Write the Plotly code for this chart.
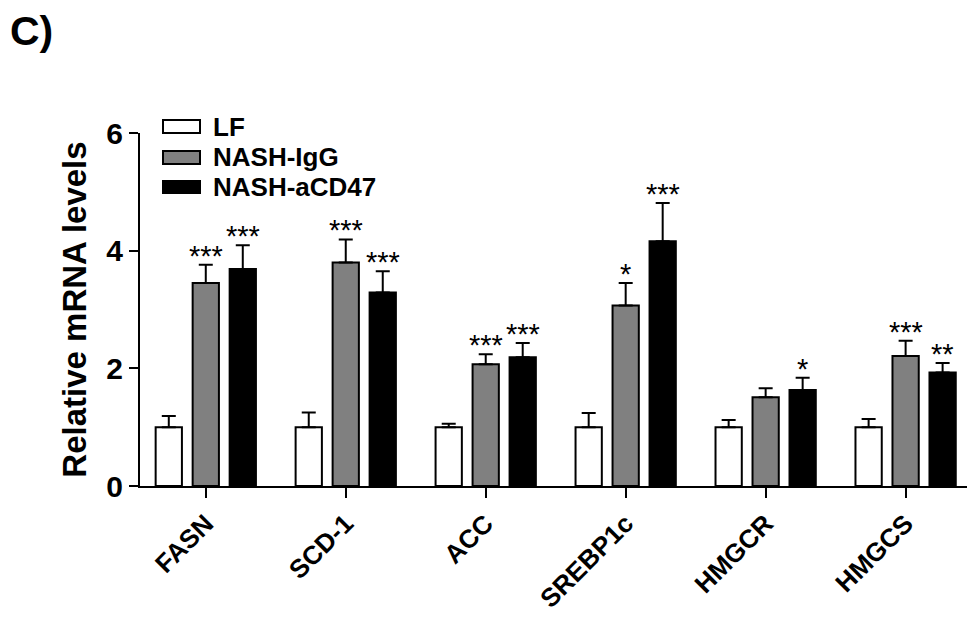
import plotly.graph_objects as go

# ---- data ----
genes = ["FASN", "SCD-1", "ACC", "SREBP1c", "HMGCR", "HMGCS"]
groups = ["LF", "NASH-IgG", "NASH-aCD47"]

lf_mean = [1.00, 1.00, 1.00, 1.00, 1.00, 1.00]
lf_sem = [0.19, 0.25, 0.06, 0.24, 0.12, 0.14]
igg_mean = [3.45, 3.80, 2.07, 3.07, 1.51, 2.21]
igg_sem = [0.31, 0.39, 0.17, 0.38, 0.15, 0.26]
acd47_mean = [3.69, 3.29, 2.19, 4.16, 1.63, 1.93]
acd47_sem = [0.40, 0.36, 0.24, 0.65, 0.21, 0.16]

lf_sig = ["", "", "", "", "", ""]
igg_sig = ["***", "***", "***", "*", "", "***"]
acd47_sig = ["***", "***", "***", "***", "*", "**"]

y_ticks = [0, 2, 4, 6]

# ---- style ----
FONT = "Liberation Sans, Arial, Helvetica, sans-serif"
colors = ["#ffffff", "#808080", "#000000"]
W, H = 975, 618
OFF = 8  # page offset of the figure inside the browser window
ML, MR, MT, MB = 140 - OFF, W - (970 - OFF), 133 - OFF, H - (486 - OFF)
BARGAP = 0.207
BARGROUPGAP = 0.29

series = [
    (groups[0], lf_mean, lf_sem, lf_sig),
    (groups[1], igg_mean, igg_sem, igg_sig),
    (groups[2], acd47_mean, acd47_sem, acd47_sig),
]

fig = go.Figure()
for k, (name, mean, sem, _) in enumerate(series):
    fig.add_trace(go.Bar(
        name=name, x=genes, y=mean,
        marker=dict(color=colors[k], line=dict(color="#000000", width=2)),
        error_y=dict(type="data", array=sem, arrayminus=[0] * len(sem),
                     symmetric=False, color="#000000", thickness=2, width=7),
        showlegend=False,
    ))

# significance stars above error bars
slot = (1 - BARGAP) / 3
annotations = []
for k, (name, mean, sem, sig) in enumerate(series):
    for i, s in enumerate(sig):
        if not s:
            continue
        annotations.append(dict(
            x=i + (k - 1) * slot, y=mean[i] + sem[i], xref="x", yref="y",
            text=s, showarrow=False, yanchor="bottom", xanchor="center",
            yshift=-9, font=dict(family=FONT, size=29, color="#000000"),
        ))

# manual legend (wide boxes like the original), positions in window pixels
pw = W - ML - MR
ph = H - MT - MB
def px(xp):
    return (xp - OFF - ML) / pw
def py(yp):
    return (H - MB - (yp - OFF)) / ph

legend_rows = [(120, 133), (151, 164), (181, 193)]
shapes = []
for k, (y0, y1) in enumerate(legend_rows):
    shapes.append(dict(type="rect", xref="paper", yref="paper",
                       x0=px(163), x1=px(200), y0=py(y1), y1=py(y0),
                       fillcolor=colors[k], line=dict(color="#000000", width=2)))
    annotations.append(dict(
        x=px(211), y=py((y0 + y1) / 2), xref="paper", yref="paper",
        text="<b>%s</b>" % groups[k], showarrow=False, xanchor="left",
        yanchor="middle", font=dict(family=FONT, size=26, color="#000000"),
    ))

# panel label
annotations.append(dict(
    x=px(OFF), y=py(OFF - 2), xref="paper", yref="paper", xanchor="left", yanchor="top",
    text="<b>C)</b>", showarrow=False,
    font=dict(family=FONT, size=41, color="#000000"),
))

fig.update_layout(
    width=W, height=H,
    margin=dict(l=ML, r=MR, t=MT, b=MB),
    paper_bgcolor="#ffffff", plot_bgcolor="#ffffff",
    barmode="group", bargap=BARGAP, bargroupgap=BARGROUPGAP,
    font=dict(family=FONT, color="#000000"),
    shapes=shapes, annotations=annotations,
    xaxis=dict(
        type="category", range=[-0.47, 5.46],
        showline=True, linecolor="#000000", linewidth=2,
        ticks="outside", ticklen=10, tickwidth=2, tickcolor="#000000",
        tickangle=-45, tickfont=dict(family=FONT, size=26, color="#000000"),
        tickvals=genes, ticktext=["<b>%s</b>" % g for g in genes],
        showgrid=False, zeroline=False,
    ),
    yaxis=dict(
        range=[0, 6], tickvals=y_ticks, ticktext=["<b>%d</b>" % t for t in y_ticks],
        showline=True, linecolor="#000000", linewidth=2,
        ticks="outside", ticklen=9, tickwidth=2, tickcolor="#000000",
        tickfont=dict(family=FONT, size=30, color="#000000"),
        showgrid=False, zeroline=False,
        title=dict(text="<b>Relative mRNA levels</b>", standoff=10,
                   font=dict(family=FONT, size=33, color="#000000")),
    ),
)

fig.write_html("out.html")
